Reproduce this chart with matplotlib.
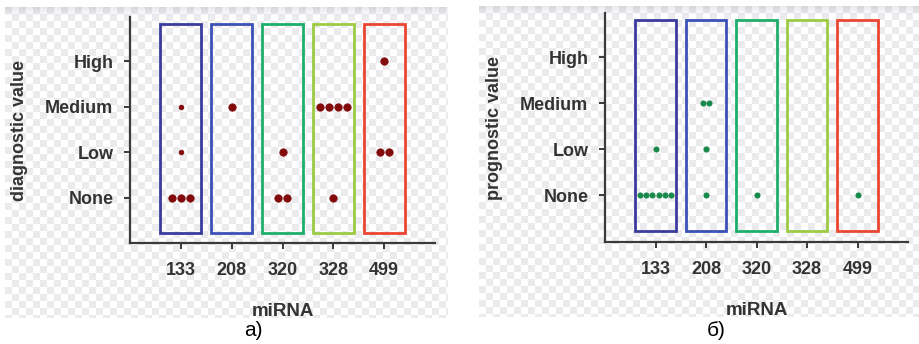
import numpy as np
import matplotlib
matplotlib.use("Agg")
import matplotlib.pyplot as plt
from matplotlib.patches import Rectangle

plt.rcParams['font.family'] = ['Liberation Sans', 'DejaVu Sans']

mirnas = ['133', '208', '320', '328', '499']
levels = ['None', 'Low', 'Medium', 'High']

# number of miRNA studies per level (rows: miRNA, cols: None, Low, Medium, High)
diagnostic = [
    [3, 1, 1, 0],
    [0, 0, 1, 0],
    [2, 1, 0, 0],
    [1, 0, 4, 0],
    [0, 2, 0, 1],
]
prognostic = [
    [6, 1, 0, 0],
    [1, 1, 2, 0],
    [1, 0, 0, 0],
    [0, 0, 0, 0],
    [1, 0, 0, 0],
]

box_colors = ['#3b3b9e', '#3a52b6', '#1fae6c', '#9dcb45', '#ec4632']
W, H = 920, 344

fig = plt.figure(figsize=(W / 100, H / 100), dpi=100)


def checker_bg(x0, y0, x1, y1):
    # transparent-looking checkerboard behind each panel
    bg = fig.add_axes([x0 / W, 1 - y1 / H, (x1 - x0) / W, (y1 - y0) / H], zorder=-5)
    h, w = int(y1 - y0), int(x1 - x0)
    yy, xx = np.indices((h, w))
    img = np.where(((xx // 7) + (yy // 7)) % 2 == 0, 0.925, 1.0)
    shade = np.clip(1 - (yy / 9.0), 0, 1) * 0.08
    img = img - shade
    bg.imshow(np.dstack([img, img, img * 1.01]).clip(0, 1), aspect='auto',
              interpolation='bilinear')
    bg.axis('off')


def panel(rect, data, ylabel, dot_color, size, small, step, ylim, box_y):
    ax = fig.add_axes(rect)
    ax.set_facecolor('none')
    for i, c in enumerate(box_colors):
        ax.add_patch(Rectangle((i - 0.4, box_y[0]), 0.8, box_y[1] - box_y[0],
                               fill=False, edgecolor=c, linewidth=2, zorder=2))
    for i, row in enumerate(data):
        for j, n in enumerate(row):
            if n == 0:
                continue
            xs = i + (np.arange(n) - (n - 1) / 2) * step
            s = size * 0.4 if (i, j) in small else size
            ax.scatter(xs, [j] * n, s=s, color=dot_color, edgecolor=dot_color,
                       linewidth=0.6, zorder=3)
    ax.set_xlim(-1, 5)
    ax.set_ylim(*ylim)
    ax.set_xticks(range(len(mirnas)))
    ax.set_xticklabels(mirnas)
    ax.set_yticks(range(len(levels)))
    ax.set_yticklabels(levels)
    for sp in ['top', 'right']:
        ax.spines[sp].set_visible(False)
    for sp in ['left', 'bottom']:
        ax.spines[sp].set_color('#3a3a3a')
        ax.spines[sp].set_linewidth(1.6)
    ax.tick_params(axis='y', length=4, width=1.4, color='#3a3a3a', pad=8,
                   labelsize=13, labelcolor='#333333')
    ax.tick_params(axis='x', length=4, width=1.4, color='#3a3a3a', pad=10,
                   labelsize=13, labelcolor='#333333')
    for t in ax.get_xticklabels() + ax.get_yticklabels():
        t.set_fontweight('bold')
    ax.set_xlabel('miRNA', fontsize=13.5, fontweight='bold', color='#333333', labelpad=17)
    ax.set_ylabel(ylabel, fontsize=13, fontweight='bold', color='#333333', labelpad=12)
    return ax


checker_bg(5, 7, 448, 318)
checker_bg(479, 6, 920, 317)

panel([130 / W, 1 - 243 / H, 305 / W, 226 / H], diagnostic, 'diagnostic value',
      '#820a0a', 28, {(0, 1), (0, 2)}, 0.175, (-1.0, 3.97), (-0.77, 3.82))
panel([605 / W, 1 - 242 / H, 303 / W, 229 / H], prognostic, 'prognostic value',
      '#16884a', 14, set(), 0.123, (-1.02, 3.96), (-0.78, 3.80))

fig.text(253 / W, 1 - 330 / H, 'а)', fontsize=15, ha='center', va='center')
fig.text(716 / W, 1 - 330 / H, 'б)', fontsize=15, ha='center', va='center')

fig.savefig('out.png', dpi=100)
